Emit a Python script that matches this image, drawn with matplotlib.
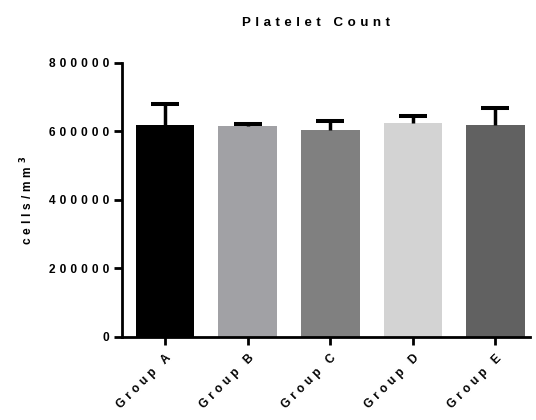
import matplotlib
matplotlib.use("Agg")
import matplotlib.pyplot as plt
from matplotlib.transforms import ScaledTranslation

# Values
groups = ["Group A", "Group B", "Group C", "Group D", "Group E"]
means = [619000, 616000, 605000, 626000, 618000]
errors = [62000, 7000, 25000, 19000, 51000]
colors = ["#000000", "#a1a1a5", "#808080", "#d3d3d3", "#616161"]
yticks = [0, 200000, 400000, 600000, 800000]

plt.rcParams["font.family"] = ["Liberation Sans", "DejaVu Sans"]
plt.rcParams["font.weight"] = "bold"


def spaced(s, gap="\u2004"):
    # Prism-style wide letter spacing
    return gap.join(s)


fig = plt.figure(figsize=(5.36, 4.2), dpi=100)
ax = fig.add_axes([0.228, 0.198, 0.761, 0.652])

x = list(range(len(groups)))
ax.bar(x, means, width=0.71, color=colors, edgecolor="none", zorder=2)

# upper-only error bars with a single cap
tops = [m + e for m, e in zip(means, errors)]
ax.vlines(x, means, tops, color="black", linewidth=2.5, zorder=3)
ax.hlines(tops, [i - 0.17 for i in x], [i + 0.17 for i in x],
          color="black", linewidth=2.9, zorder=3)

ax.set_xlim(-0.52, 4.42)
ax.set_ylim(0, 800000)
ax.set_yticks(yticks)
ax.set_yticklabels([spaced(str(v)) for v in yticks], fontsize=8.6, fontweight="bold")
ax.set_xticks(x)
ax.set_xticklabels([spaced(g) for g in groups], rotation=45, ha="right",
                   rotation_mode="anchor", fontsize=8.6, fontweight="bold")
shift = ScaledTranslation(-4 / 100, 0, fig.dpi_scale_trans)
for lab in ax.get_xticklabels():
    lab.set_transform(lab.get_transform() + shift)

for side in ["top", "right"]:
    ax.spines[side].set_visible(False)
for side in ["left", "bottom"]:
    ax.spines[side].set_linewidth(2)
ax.tick_params(width=2, length=6, direction="out", pad=3)
ax.tick_params(axis="x", pad=5)

ax.set_ylabel(spaced("cells/mm") + "\u2004$^{\\mathbf{3}}$", fontsize=8.6,
              fontweight="bold", labelpad=10)
fig.text(0.589, 0.945, spaced("Platelet Count"), ha="center",
         va="center", fontsize=9.6, fontweight="bold")

fig.savefig("out.png", dpi=100)
